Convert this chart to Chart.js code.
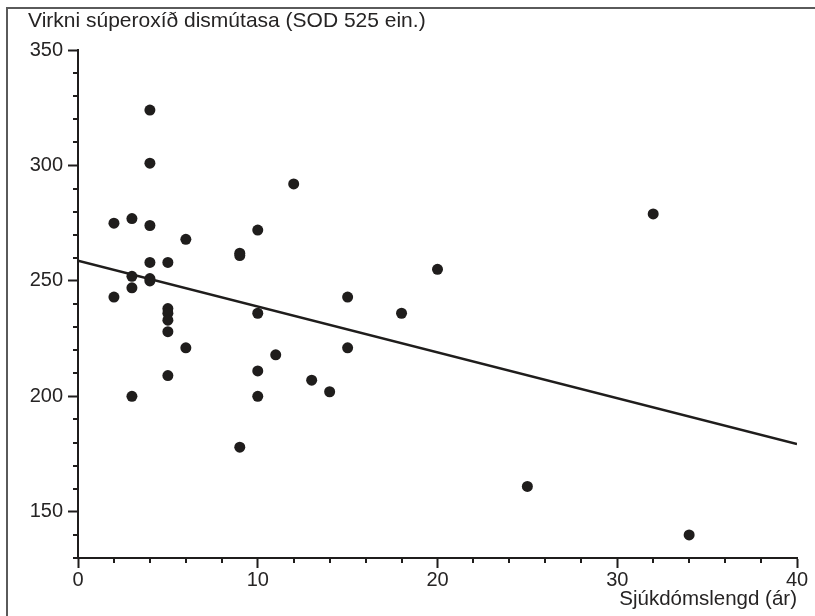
<!DOCTYPE html>
<html>
<head>
<meta charset="utf-8">
<script src="https://cdn.jsdelivr.net/npm/chart.js@4/dist/chart.umd.min.js"></script>
<style>
  html, body { margin: 0; padding: 0; background: #ffffff; }
  #wrap { width: 815px; height: 616px; position: relative; }
</style>
</head>
<body>
<div id="wrap"><canvas id="c" width="815" height="616"></canvas></div>
<script>
// ---- data ----
const durationYears = [2, 2, 3, 3, 3, 3, 4, 4, 4, 4, 4, 4, 5, 5, 5, 5, 5, 5, 6, 6, 9, 9, 9, 10, 10, 10, 10, 11, 12, 13, 14, 15, 15, 18, 20, 25, 32, 34];
const sodActivity   = [275, 243, 277, 252, 247, 200, 324, 301, 274, 258, 251, 250, 258, 238, 236, 233, 228, 209, 268, 221, 262, 261, 178, 272, 236, 211, 200, 218, 292, 207, 202, 243, 221, 236, 255, 161, 279, 140];
const trendX = [0, 40];
const trendY = [258.8, 179.4];
const xTickValues = [0, 10, 20, 30, 40];
const yTickValues = [150, 200, 250, 300, 350];
const yAxisTitle = 'Virkni súperoxíð dismútasa (SOD 525 ein.)';
const xAxisTitle = 'Sjúkdómslengd (ár)';

const ink = '#1f1d1c';
const textInk = '#262424';
const family = "'Liberation Sans', Arial, Helvetica, sans-serif";

const scatterPoints = durationYears.map((d, i) => ({ x: d, y: sodActivity[i] }));
const trendPoints = trendX.map((d, i) => ({ x: d, y: trendY[i] }));

const framePlugin = {
  id: 'frame',
  beforeDraw(chart) {
    const ctx = chart.ctx;
    ctx.save();
    ctx.strokeStyle = '#5a5a5a';
    ctx.lineWidth = 2;
    ctx.strokeRect(7, 8, 1000, 1000);
    ctx.restore();
  }
};

const minorTicksPlugin = {
  id: 'minorTicks',
  afterDraw(chart) {
    const ctx = chart.ctx;
    const xs = chart.scales.x, ys = chart.scales.y;
    ctx.save();
    ctx.strokeStyle = ink;
    ctx.lineWidth = 2;
    ys.ticks.forEach(t => {
      if (yTickValues.includes(t.value)) return;
      const py = Math.round(ys.getPixelForValue(t.value));
      ctx.beginPath();
      ctx.moveTo(ys.right - 5, py);
      ctx.lineTo(ys.right, py);
      ctx.stroke();
    });
    xs.ticks.forEach(t => {
      if (xTickValues.includes(t.value)) return;
      const px = Math.round(xs.getPixelForValue(t.value));
      ctx.beginPath();
      ctx.moveTo(px, xs.top);
      ctx.lineTo(px, xs.top + 5);
      ctx.stroke();
    });
    ctx.restore();
  }
};

new Chart(document.getElementById('c'), {
  type: 'scatter',
  data: {
    datasets: [
      {
        label: 'SOD',
        data: scatterPoints,
        pointRadius: 5.5,
        pointHoverRadius: 5.5,
        pointBackgroundColor: ink,
        pointBorderWidth: 0,
        order: 2
      },
      {
        type: 'line',
        label: 'trend',
        data: trendPoints,
        showLine: true,
        pointRadius: 0,
        borderColor: ink,
        borderWidth: 2.5,
        fill: false,
        order: 1
      }
    ]
  },
  options: {
    responsive: false,
    animation: false,
    devicePixelRatio: 1,
    layout: { padding: { left: 28, right: 18, top: 9, bottom: 6 } },
    plugins: {
      legend: { display: false },
      tooltip: { enabled: false },
      title: {
        display: true,
        text: yAxisTitle,
        align: 'start',
        color: textInk,
        font: { family: family, size: 21, weight: 'normal', lineHeight: 1.2 },
        padding: { top: 0, bottom: 15.8 }
      }
    },
    scales: {
      x: {
        type: 'linear',
        position: 'bottom',
        min: 0,
        max: 40,
        afterFit: s => { s.height = 52; },
        ticks: {
          stepSize: 2,
          autoSkip: false,
          maxRotation: 0,
          padding: 1,
          color: textInk,
          font: { family: family, size: 20, lineHeight: 1.15 },
          callback: v => xTickValues.includes(v) ? String(v) : ''
        },
        grid: {
          drawOnChartArea: false,
          tickLength: 10,
          tickWidth: 2,
          tickColor: c => (c.tick && xTickValues.includes(c.tick.value)) ? ink : 'rgba(0,0,0,0)'
        },
        border: { color: ink, width: 2 },
        title: {
          display: true,
          text: xAxisTitle,
          align: 'end',
          color: textInk,
          font: { family: family, size: 20.5, lineHeight: 1 },
          padding: 0
        }
      },
      y: {
        type: 'linear',
        min: 130,
        max: 350,
        afterFit: s => { s.width = 50; },
        ticks: {
          stepSize: 10,
          autoSkip: false,
          padding: 5,
          color: textInk,
          font: { family: family, size: 20, lineHeight: 1.2 },
          callback: v => yTickValues.includes(v) ? String(v) : ''
        },
        grid: {
          drawOnChartArea: false,
          tickLength: 10,
          tickWidth: 2,
          tickColor: c => (c.tick && yTickValues.includes(c.tick.value)) ? ink : 'rgba(0,0,0,0)'
        },
        border: { color: ink, width: 2 }
      }
    }
  },
  plugins: [framePlugin, minorTicksPlugin]
});
</script>
</body>
</html>
